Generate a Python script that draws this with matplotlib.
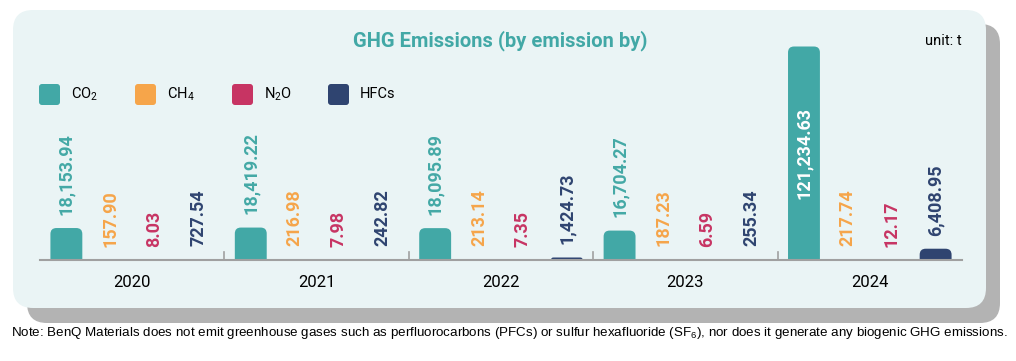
import matplotlib
matplotlib.use("Agg")
import matplotlib.pyplot as plt
from matplotlib.patches import FancyBboxPatch

# data (unit: t)
years = ["2020", "2021", "2022", "2023", "2024"]
gases = ["CO$_\\mathregular{2}$", "CH$_\\mathregular{4}$", "N$_\\mathregular{2}$O", "HFCs"]
co2 = [18153.94, 18419.22, 18095.89, 16704.27, 121234.63]
ch4 = [157.90, 216.98, 213.14, 187.23, 217.74]
n2o = [8.03, 7.98, 7.35, 6.59, 12.17]
hfcs = [727.54, 242.82, 1424.73, 255.34, 6408.95]

series = [co2, ch4, n2o, hfcs]
colors = ["#42A8A6", "#F6A54A", "#C73463", "#2F4470"]
label_colors = ["#44A9A6", "#F6A54A", "#C73463", "#2F4470"]

W, H = 1016, 361
plt.rcParams["font.family"] = ["Roboto", "DejaVu Sans"]

fig = plt.figure(figsize=(W / 100, H / 100), dpi=100)

# background panel + shadow, in pixel coordinates
bg = fig.add_axes([0, 0, 1, 1])
bg.set_xlim(0, W)
bg.set_ylim(H, 0)
bg.axis("off")
bg.add_patch(FancyBboxPatch((27 + 20, 24 + 20), 973 - 40, 299 - 40,
                            boxstyle="round,pad=20", fc="#B3B3B3", ec="none"))
bg.add_patch(FancyBboxPatch((13 + 20, 10 + 20), 973 - 40, 298 - 40,
                            boxstyle="round,pad=20", fc="#EAF4F5", ec="none"))

bg.text(500, 41, "GHG Emissions (by emission by)", ha="center", va="center",
        fontsize=14.5, fontweight="bold", color="#42A8A6")
bg.text(962, 41, "unit: t", ha="right", va="center", fontsize=10.5, color="black")

# legend
leg_x = [39, 135, 232, 328]
for i, g in enumerate(gases):
    bg.add_patch(FancyBboxPatch((leg_x[i] + 3, 84 + 3), 15, 15,
                                boxstyle="round,pad=3", fc=colors[i], ec="none"))
    bg.text(leg_x[i] + 32, 94.5, g, ha="left", va="center", fontsize=10.5, color="black")

note = bg.text(W / 2 + 1, 333, "Note: BenQ Materials does not emit greenhouse gases such as perfluorocarbons (PFCs) "
               "or sulfur hexafluoride (SF$_\\mathregular{6}$), nor does it generate any biogenic GHG emissions.",
               ha="center", va="center", fontsize=10.5, color="black",
               family=["Liberation Sans", "DejaVu Sans"])
# shrink the note until it fits the reference width
fig.canvas.draw()
r = fig.canvas.get_renderer()
while note.get_window_extent(r).width > 1000:
    note.set_fontsize(note.get_fontsize() - 0.1)

# bar axes
x0_px, x1_px = 40, 962
base_px, top_px = 260, 40
ax = fig.add_axes([x0_px / W, (H - base_px) / H, (x1_px - x0_px) / W, (base_px - top_px) / H])
ax.patch.set_alpha(0)
ax.axis("off")
ymax = max(co2) * (base_px - top_px) / 213.5
ax.set_xlim(-0.5, len(years) - 0.5)
ax.set_ylim(0, ymax)

xpx = (x1_px - x0_px) / len(years)        # px per x unit
ypx = (base_px - top_px) / ymax           # px per y unit
offsets = [-0.357, -0.119, 0.119, 0.357]
bw = 0.173

for i, vals in enumerate(series):
    xs = [j + offsets[i] for j in range(len(years))]
    bars = ax.bar(xs, vals, width=bw, color=colors[i])
    for b, v, x in zip(bars, vals, xs):
        b.set_visible(False)
        h_px = v * ypx
        if h_px >= 2:
            r_px = min(6, max(h_px, 1.5))
            r = r_px / xpx
            ry = r_px / ypx
            p = FancyBboxPatch((b.get_x(), -ry), b.get_width(), v + ry,
                               boxstyle="round,pad=0,rounding_size=%f" % r,
                               mutation_aspect=xpx / ypx,
                               fc=colors[i], ec="none", clip_on=True)
            ax.add_patch(p)
        txt = f"{v:,.2f}"
        if i == 0 and v == max(co2):
            ax.text(x, v / 2, txt, rotation=90, ha="center", va="center",
                    fontsize=13, fontweight="bold", color="white")
        else:
            ax.annotate(txt, (x, v), xytext=(0, 9.5), textcoords="offset points",
                        rotation=90, ha="center", va="bottom",
                        fontsize=13, fontweight="bold", color=label_colors[i])

# baseline, separators, year labels
ax.axhline(0, color="#A0A0A0", lw=1.5, clip_on=False)
for k in range(1, len(years)):
    ax.plot([k - 0.5, k - 0.5], [0, 8 / ypx], color="#A0A0A0", lw=1.2, clip_on=False)
for j, y in enumerate(years):
    ax.annotate(y, (j, 0), xytext=(0, -16.5), textcoords="offset points",
                ha="center", va="center", fontsize=12, color="black")

fig.savefig("out.png", dpi=100)
